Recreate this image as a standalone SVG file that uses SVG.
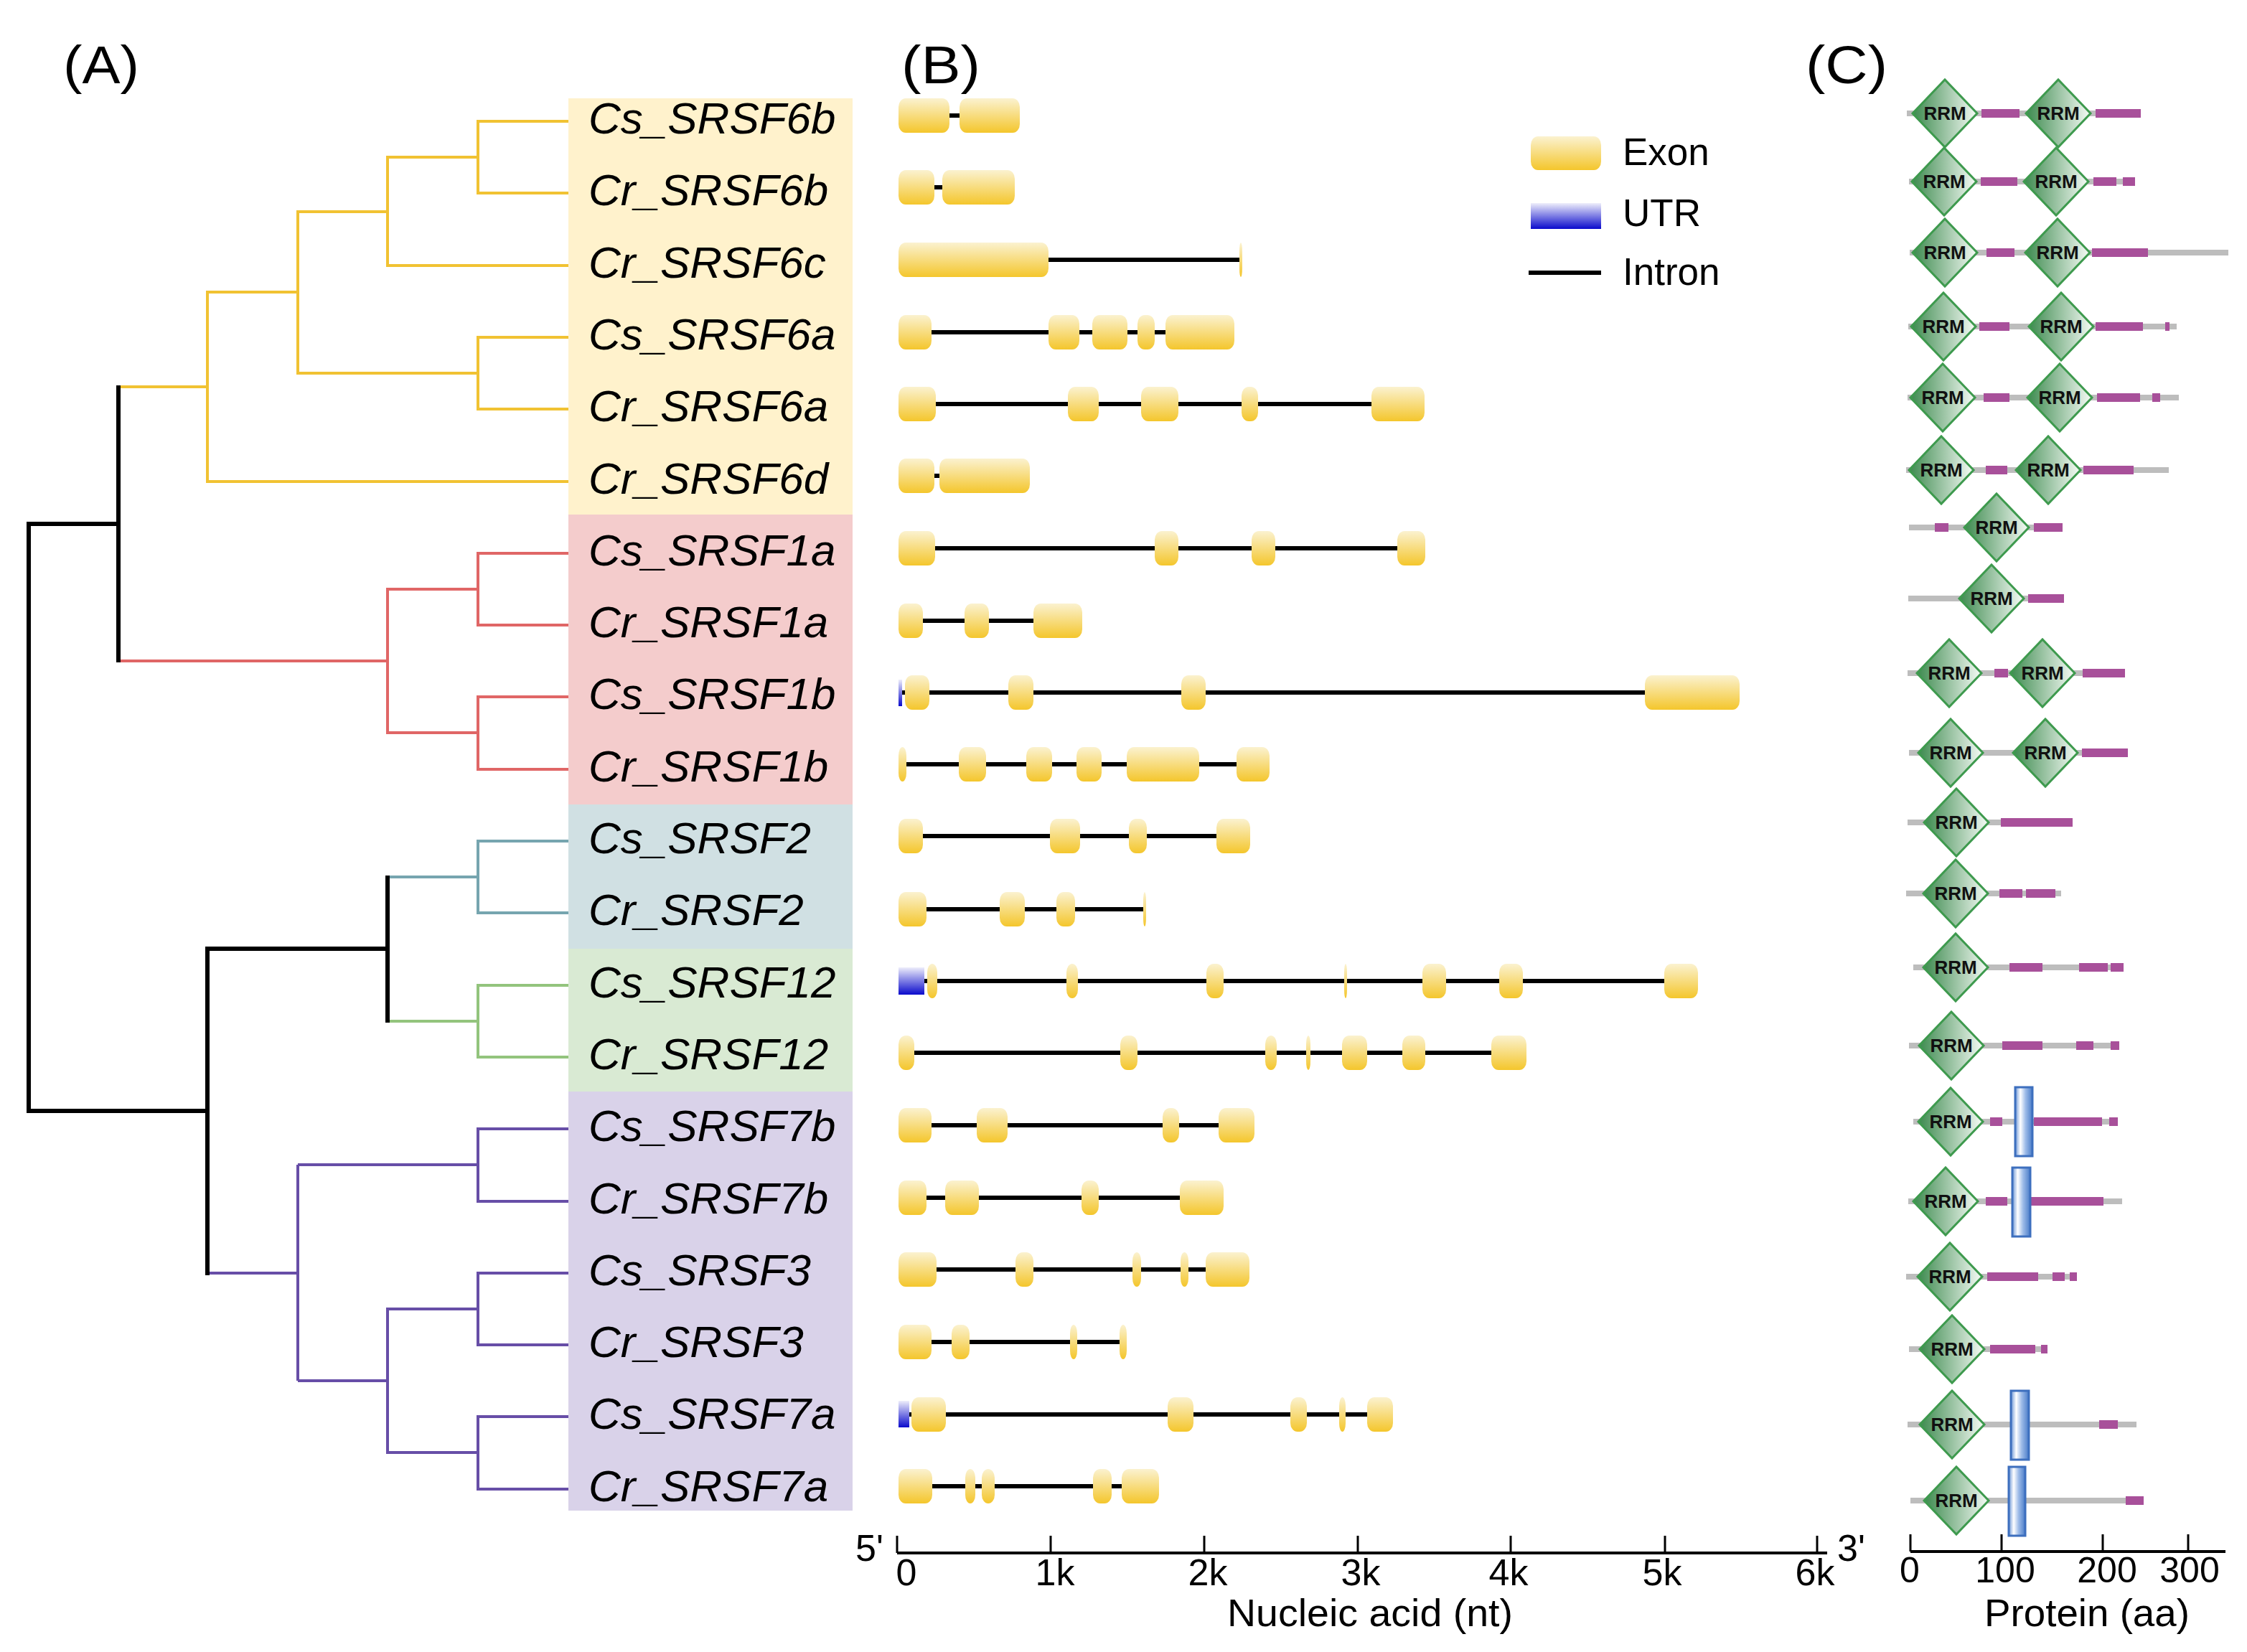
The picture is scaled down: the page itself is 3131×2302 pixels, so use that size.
<svg xmlns="http://www.w3.org/2000/svg" xmlns:xlink="http://www.w3.org/1999/xlink" width="3131" height="2302" viewBox="0 0 3131 2302">
<style>
.lbl{font-family:"Liberation Sans",Arial,sans-serif;font-style:italic;font-size:62px;fill:#000}
.t{font-family:"Liberation Sans",Arial,sans-serif;fill:#000}
.rrm{font-family:"Liberation Sans",Arial,sans-serif;font-weight:bold;font-size:26px;fill:#111;text-anchor:middle}
.ex{fill:url(#gEx);rx:10px;ry:12px}
.utr{fill:url(#gUtr)}
.in{stroke:#000;stroke-width:6;fill:none}
.gr{stroke:#BDBDBD;stroke-width:8;fill:none}
.mg{fill:#A8509A}
.bx{fill:url(#gBx);stroke:#3D6FBE;stroke-width:3}
.ty{stroke:#F1C232;stroke-width:4;fill:none}
.tr{stroke:#E06666;stroke-width:4;fill:none}
.tt{stroke:#76A5AF;stroke-width:4;fill:none}
.tg{stroke:#93C47D;stroke-width:4;fill:none}
.tp{stroke:#674EA7;stroke-width:4;fill:none}
.tk{stroke:#000;stroke-width:6;fill:none}
.axl{stroke:#000;stroke-width:4;fill:none}
.tick{stroke:#000;stroke-width:3;fill:none}
</style>
<defs>
<linearGradient id="gEx" x1="0" y1="0" x2="0" y2="1"><stop offset="0" stop-color="#FBF2D0"/><stop offset="1" stop-color="#F4C62C"/></linearGradient>
<linearGradient id="gUtr" x1="0" y1="0" x2="0" y2="1"><stop offset="0" stop-color="#EEEEFB"/><stop offset="1" stop-color="#0A0ACC"/></linearGradient>
<linearGradient id="gRRM" x1="0" y1="0" x2="1" y2="0"><stop offset="0" stop-color="#3C8A4E"/><stop offset="1" stop-color="#F6FBF6"/></linearGradient>
<linearGradient id="gBx" x1="0" y1="0" x2="1" y2="0"><stop offset="0" stop-color="#6A95D6"/><stop offset="0.3" stop-color="#FFFFFF"/><stop offset="0.6" stop-color="#9DBBE8"/><stop offset="1" stop-color="#4A7CC8"/></linearGradient>
<polygon id="dia" points="-45,0 0,-47 45,0 0,47" fill="url(#gRRM)" stroke="#3E9A4E" stroke-width="3"/>
</defs>
<rect width="3131" height="2302" fill="#fff"/>

<g id="panel-labels">
<text class="t" x="88" y="116" font-size="74" textLength="106" lengthAdjust="spacingAndGlyphs">(A)</text>
<text class="t" x="1256" y="116" font-size="74" textLength="110" lengthAdjust="spacingAndGlyphs">(B)</text>
<text class="t" x="2516" y="116" font-size="74" textLength="114" lengthAdjust="spacingAndGlyphs">(C)</text>
</g>

<g id="clade-boxes">
<rect x="792" y="137" width="396" height="580" fill="#FFF2CC"/>
<rect x="792" y="717" width="396" height="404" fill="#F4CCCC"/>
<rect x="792" y="1121" width="396" height="201" fill="#D0E0E3"/>
<rect x="792" y="1322" width="396" height="199" fill="#D9EAD3"/>
<rect x="792" y="1521" width="396" height="584" fill="#D9D2E9"/>
</g>

<g id="connectors">
<path class="ty" d="M792 169H666V269H792M666 219H540V370H792M540 295H415V520H666M792 470H666V570H792M415 407H289V671H792M289 539H165"/>
<path class="tr" d="M792 771H666V871H792M792 971H666V1072H792M666 821H540V1021H666M540 921H165"/>
<path class="tt" d="M792 1172H666V1272H792M666 1222H540"/>
<path class="tg" d="M792 1373H666V1473H792M666 1423H540"/>
<path class="tp" d="M792 1573H666V1674H792M666 1623H415M792 1774H666V1874H792M792 1974H666V2075H792M666 1824H540V2024H666M540 1924H415M415 1623V1924M415 1774H289"/>
<path class="tk" d="M165 537V923M165 730H40M40 727V1551M40 1548H292M540 1220V1425M540 1322H289M289 1319V1777"/>
</g>

<g id="legend">
<rect class="ex" x="2133" y="190" width="98" height="47"/>
<text class="t" x="2261" y="230" font-size="53">Exon</text>
<rect class="utr" x="2133" y="283" width="98" height="36"/>
<text class="t" x="2261" y="315" font-size="53">UTR</text>
<line class="in" x1="2130" y1="380" x2="2231" y2="380" stroke-width="7"/>
<text class="t" x="2261" y="397" font-size="53">Intron</text>
</g>

<g id="axis-nt">
<path class="axl" d="M1250 2164H2546"/>
<path class="tick" d="M1250 2140V2164M1464 2140V2164M1678 2140V2164M1892 2140V2164M2105 2140V2164M2320 2140V2164M2532 2140V2164"/>
<text class="t" x="1192" y="2175" font-size="52">5'</text>
<text class="t" x="2560" y="2175" font-size="52">3'</text>
<g font-size="52" text-anchor="middle">
<text class="t" x="1263" y="2209">0</text>
<text class="t" x="1470" y="2209">1k</text>
<text class="t" x="1683" y="2209">2k</text>
<text class="t" x="1896" y="2209">3k</text>
<text class="t" x="2102" y="2209">4k</text>
<text class="t" x="2316" y="2209">5k</text>
<text class="t" x="2529" y="2209">6k</text>
</g>
<text class="t" x="1710" y="2266" font-size="54" textLength="398" lengthAdjust="spacingAndGlyphs">Nucleic acid (nt)</text>
</g>

<g id="axis-aa">
<path class="axl" d="M2662 2162H3101"/>
<path class="tick" d="M2662 2138V2162M2789 2138V2162M2930 2138V2162M3049 2138V2162"/>
<g font-size="50" text-anchor="middle">
<text class="t" x="2661" y="2205">0</text>
<text class="t" x="2794" y="2205">100</text>
<text class="t" x="2936" y="2205">200</text>
<text class="t" x="3051" y="2205">300</text>
</g>
<text class="t" x="2765" y="2266" font-size="54" textLength="286" lengthAdjust="spacingAndGlyphs">Protein (aa)</text>
</g>

<g id="Cs_SRSF6b">
<text class="lbl" x="820" y="186">Cs_SRSF6b</text>
<line class="in" x1="1323" y1="161" x2="1337" y2="161"/>
<rect class="ex" x="1252" y="137" width="71" height="48"/><rect class="ex" x="1337" y="137" width="84" height="48"/>
<line class="gr" x1="2657" y1="158" x2="2983" y2="158"/>
<rect class="mg" x="2761" y="152" width="53" height="12"/><rect class="mg" x="2920" y="152" width="63" height="12"/>
<use href="#dia" x="2710" y="158"/><text class="rrm" x="2710" y="167">RRM</text>
<use href="#dia" x="2868" y="158"/><text class="rrm" x="2868" y="167">RRM</text>
</g>

<g id="Cr_SRSF6b">
<text class="lbl" x="820" y="286">Cr_SRSF6b</text>
<line class="in" x1="1302" y1="261" x2="1313" y2="261"/>
<rect class="ex" x="1252" y="237" width="50" height="48"/><rect class="ex" x="1313" y="237" width="101" height="48"/>
<line class="gr" x1="2660" y1="253" x2="2975" y2="253"/>
<rect class="mg" x="2760" y="247" width="51" height="12"/><rect class="mg" x="2917" y="247" width="32" height="12"/><rect class="mg" x="2958" y="247" width="17" height="12"/>
<use href="#dia" x="2709" y="253"/><text class="rrm" x="2709" y="262">RRM</text>
<use href="#dia" x="2865" y="253"/><text class="rrm" x="2865" y="262">RRM</text>
</g>

<g id="Cr_SRSF6c">
<text class="lbl" x="820" y="387">Cr_SRSF6c</text>
<line class="in" x1="1461" y1="362" x2="1727" y2="362"/>
<rect class="ex" x="1252" y="338" width="209" height="48"/><rect class="ex" x="1727" y="338" width="4" height="48"/>
<line class="gr" x1="2661" y1="352" x2="3105" y2="352"/>
<rect class="mg" x="2768" y="346" width="39" height="12"/><rect class="mg" x="2915" y="346" width="78" height="12"/>
<use href="#dia" x="2710" y="352"/><text class="rrm" x="2710" y="361">RRM</text>
<use href="#dia" x="2867" y="352"/><text class="rrm" x="2867" y="361">RRM</text>
</g>

<g id="Cs_SRSF6a">
<text class="lbl" x="820" y="487">Cs_SRSF6a</text>
<line class="in" x1="1298" y1="463" x2="1624" y2="463"/>
<rect class="ex" x="1252" y="439" width="46" height="48"/><rect class="ex" x="1461" y="439" width="43" height="48"/><rect class="ex" x="1522" y="439" width="49" height="48"/><rect class="ex" x="1585" y="439" width="24" height="48"/><rect class="ex" x="1624" y="439" width="96" height="48"/>
<line class="gr" x1="2659" y1="455" x2="3033" y2="455"/>
<rect class="mg" x="2758" y="449" width="42" height="12"/><rect class="mg" x="2920" y="449" width="66" height="12"/><rect class="mg" x="3017" y="449" width="6" height="12"/>
<use href="#dia" x="2708" y="455"/><text class="rrm" x="2708" y="464">RRM</text>
<use href="#dia" x="2872" y="455"/><text class="rrm" x="2872" y="464">RRM</text>
</g>

<g id="Cr_SRSF6a">
<text class="lbl" x="820" y="587">Cr_SRSF6a</text>
<line class="in" x1="1304" y1="563" x2="1911" y2="563"/>
<rect class="ex" x="1252" y="539" width="52" height="48"/><rect class="ex" x="1488" y="539" width="43" height="48"/><rect class="ex" x="1590" y="539" width="52" height="48"/><rect class="ex" x="1730" y="539" width="23" height="48"/><rect class="ex" x="1911" y="539" width="74" height="48"/>
<line class="gr" x1="2658" y1="554" x2="3036" y2="554"/>
<rect class="mg" x="2764" y="548" width="36" height="12"/><rect class="mg" x="2922" y="548" width="60" height="12"/><rect class="mg" x="2999" y="548" width="11" height="12"/>
<use href="#dia" x="2707" y="554"/><text class="rrm" x="2707" y="563">RRM</text>
<use href="#dia" x="2870" y="554"/><text class="rrm" x="2870" y="563">RRM</text>
</g>

<g id="Cr_SRSF6d">
<text class="lbl" x="820" y="688">Cr_SRSF6d</text>
<line class="in" x1="1302" y1="663" x2="1309" y2="663"/>
<rect class="ex" x="1252" y="639" width="50" height="48"/><rect class="ex" x="1309" y="639" width="126" height="48"/>
<line class="gr" x1="2656" y1="655" x2="3022" y2="655"/>
<rect class="mg" x="2767" y="649" width="30" height="12"/><rect class="mg" x="2903" y="649" width="70" height="12"/>
<use href="#dia" x="2705" y="655"/><text class="rrm" x="2705" y="664">RRM</text>
<use href="#dia" x="2854" y="655"/><text class="rrm" x="2854" y="664">RRM</text>
</g>

<g id="Cs_SRSF1a">
<text class="lbl" x="820" y="788">Cs_SRSF1a</text>
<line class="in" x1="1303" y1="764" x2="1947" y2="764"/>
<rect class="ex" x="1252" y="740" width="51" height="48"/><rect class="ex" x="1609" y="740" width="33" height="48"/><rect class="ex" x="1744" y="740" width="33" height="48"/><rect class="ex" x="1947" y="740" width="39" height="48"/>
<line class="gr" x1="2660" y1="735" x2="2874" y2="735"/>
<rect class="mg" x="2696" y="729" width="19" height="12"/><rect class="mg" x="2834" y="729" width="40" height="12"/>
<use href="#dia" x="2782" y="735"/><text class="rrm" x="2782" y="744">RRM</text>
</g>

<g id="Cr_SRSF1a">
<text class="lbl" x="820" y="888">Cr_SRSF1a</text>
<line class="in" x1="1286" y1="865" x2="1440" y2="865"/>
<rect class="ex" x="1252" y="841" width="34" height="48"/><rect class="ex" x="1344" y="841" width="34" height="48"/><rect class="ex" x="1440" y="841" width="68" height="48"/>
<line class="gr" x1="2659" y1="834" x2="2876" y2="834"/>
<rect class="mg" x="2826" y="828" width="50" height="12"/>
<use href="#dia" x="2775" y="834"/><text class="rrm" x="2775" y="843">RRM</text>
</g>

<g id="Cs_SRSF1b">
<text class="lbl" x="820" y="988">Cs_SRSF1b</text>
<line class="in" x1="1257" y1="965" x2="2292" y2="965"/>
<rect class="utr" x="1252" y="947" width="5" height="37"/>
<rect class="ex" x="1261" y="941" width="34" height="48"/><rect class="ex" x="1405" y="941" width="35" height="48"/><rect class="ex" x="1646" y="941" width="34" height="48"/><rect class="ex" x="2292" y="941" width="132" height="48"/>
<line class="gr" x1="2658" y1="938" x2="2961" y2="938"/>
<rect class="mg" x="2779" y="932" width="19" height="12"/><rect class="mg" x="2902" y="932" width="59" height="12"/>
<use href="#dia" x="2716" y="938"/><text class="rrm" x="2716" y="947">RRM</text>
<use href="#dia" x="2846" y="938"/><text class="rrm" x="2846" y="947">RRM</text>
</g>

<g id="Cr_SRSF1b">
<text class="lbl" x="820" y="1089">Cr_SRSF1b</text>
<line class="in" x1="1263" y1="1065" x2="1723" y2="1065"/>
<rect class="ex" x="1252" y="1041" width="11" height="48"/><rect class="ex" x="1336" y="1041" width="38" height="48"/><rect class="ex" x="1430" y="1041" width="36" height="48"/><rect class="ex" x="1500" y="1041" width="35" height="48"/><rect class="ex" x="1570" y="1041" width="101" height="48"/><rect class="ex" x="1723" y="1041" width="46" height="48"/>
<line class="gr" x1="2660" y1="1049" x2="2965" y2="1049"/>
<rect class="mg" x="2901" y="1043" width="64" height="12"/>
<use href="#dia" x="2718" y="1049"/><text class="rrm" x="2718" y="1058">RRM</text>
<use href="#dia" x="2850" y="1049"/><text class="rrm" x="2850" y="1058">RRM</text>
</g>

<g id="Cs_SRSF2">
<text class="lbl" x="820" y="1189">Cs_SRSF2</text>
<line class="in" x1="1286" y1="1165" x2="1695" y2="1165"/>
<rect class="ex" x="1252" y="1141" width="34" height="48"/><rect class="ex" x="1463" y="1141" width="42" height="48"/><rect class="ex" x="1573" y="1141" width="25" height="48"/><rect class="ex" x="1695" y="1141" width="47" height="48"/>
<line class="gr" x1="2658" y1="1146" x2="2888" y2="1146"/>
<rect class="mg" x="2788" y="1140" width="100" height="12"/>
<use href="#dia" x="2726" y="1146"/><text class="rrm" x="2726" y="1155">RRM</text>
</g>

<g id="Cr_SRSF2">
<text class="lbl" x="820" y="1289">Cr_SRSF2</text>
<line class="in" x1="1291" y1="1267" x2="1593" y2="1267"/>
<rect class="ex" x="1252" y="1243" width="39" height="48"/><rect class="ex" x="1393" y="1243" width="35" height="48"/><rect class="ex" x="1472" y="1243" width="26" height="48"/><rect class="ex" x="1593" y="1243" width="4" height="48"/>
<line class="gr" x1="2656" y1="1245" x2="2872" y2="1245"/>
<rect class="mg" x="2786" y="1239" width="32" height="12"/><rect class="mg" x="2823" y="1239" width="41" height="12"/>
<use href="#dia" x="2725" y="1245"/><text class="rrm" x="2725" y="1254">RRM</text>
</g>

<g id="Cs_SRSF12">
<text class="lbl" x="820" y="1390">Cs_SRSF12</text>
<line class="in" x1="1288" y1="1367" x2="2319" y2="1367"/>
<rect class="utr" x="1252" y="1348" width="36" height="38"/>
<rect class="ex" x="1292" y="1343" width="14" height="48"/><rect class="ex" x="1486" y="1343" width="16" height="48"/><rect class="ex" x="1681" y="1343" width="24" height="48"/><rect class="ex" x="1873" y="1343" width="4" height="48"/><rect class="ex" x="1982" y="1343" width="33" height="48"/><rect class="ex" x="2089" y="1343" width="33" height="48"/><rect class="ex" x="2319" y="1343" width="47" height="48"/>
<line class="gr" x1="2666" y1="1348" x2="2959" y2="1348"/>
<rect class="mg" x="2800" y="1342" width="46" height="12"/><rect class="mg" x="2897" y="1342" width="40" height="12"/><rect class="mg" x="2941" y="1342" width="18" height="12"/>
<use href="#dia" x="2725" y="1348"/><text class="rrm" x="2725" y="1357">RRM</text>
</g>

<g id="Cr_SRSF12">
<text class="lbl" x="820" y="1490">Cr_SRSF12</text>
<line class="in" x1="1274" y1="1467" x2="2078" y2="1467"/>
<rect class="ex" x="1252" y="1443" width="22" height="48"/><rect class="ex" x="1561" y="1443" width="24" height="48"/><rect class="ex" x="1763" y="1443" width="16" height="48"/><rect class="ex" x="1820" y="1443" width="6" height="48"/><rect class="ex" x="1870" y="1443" width="35" height="48"/><rect class="ex" x="1954" y="1443" width="32" height="48"/><rect class="ex" x="2078" y="1443" width="49" height="48"/>
<line class="gr" x1="2660" y1="1457" x2="2953" y2="1457"/>
<rect class="mg" x="2790" y="1451" width="56" height="12"/><rect class="mg" x="2893" y="1451" width="24" height="12"/><rect class="mg" x="2941" y="1451" width="12" height="12"/>
<use href="#dia" x="2719" y="1457"/><text class="rrm" x="2719" y="1466">RRM</text>
</g>

<g id="Cs_SRSF7b">
<text class="lbl" x="820" y="1590">Cs_SRSF7b</text>
<line class="in" x1="1298" y1="1568" x2="1698" y2="1568"/>
<rect class="ex" x="1252" y="1544" width="46" height="48"/><rect class="ex" x="1361" y="1544" width="43" height="48"/><rect class="ex" x="1620" y="1544" width="23" height="48"/><rect class="ex" x="1698" y="1544" width="50" height="48"/>
<line class="gr" x1="2666" y1="1563" x2="2951" y2="1563"/>
<rect class="mg" x="2773" y="1557" width="17" height="12"/><rect class="mg" x="2834" y="1557" width="95" height="12"/><rect class="mg" x="2939" y="1557" width="12" height="12"/>
<use href="#dia" x="2718" y="1563"/><text class="rrm" x="2718" y="1572">RRM</text>
<rect class="bx" x="2808" y="1515" width="24" height="96"/>
</g>

<g id="Cr_SRSF7b">
<text class="lbl" x="820" y="1691">Cr_SRSF7b</text>
<line class="in" x1="1291" y1="1669" x2="1644" y2="1669"/>
<rect class="ex" x="1252" y="1645" width="39" height="48"/><rect class="ex" x="1317" y="1645" width="47" height="48"/><rect class="ex" x="1507" y="1645" width="24" height="48"/><rect class="ex" x="1644" y="1645" width="61" height="48"/>
<line class="gr" x1="2659" y1="1674" x2="2957" y2="1674"/>
<rect class="mg" x="2767" y="1668" width="30" height="12"/><rect class="mg" x="2830" y="1668" width="101" height="12"/>
<use href="#dia" x="2711" y="1674"/><text class="rrm" x="2711" y="1683">RRM</text>
<rect class="bx" x="2804" y="1627" width="25" height="96"/>
</g>

<g id="Cs_SRSF3">
<text class="lbl" x="820" y="1791">Cs_SRSF3</text>
<line class="in" x1="1305" y1="1769" x2="1680" y2="1769"/>
<rect class="ex" x="1252" y="1745" width="53" height="48"/><rect class="ex" x="1415" y="1745" width="25" height="48"/><rect class="ex" x="1578" y="1745" width="12" height="48"/><rect class="ex" x="1645" y="1745" width="11" height="48"/><rect class="ex" x="1680" y="1745" width="61" height="48"/>
<line class="gr" x1="2656" y1="1779" x2="2894" y2="1779"/>
<rect class="mg" x="2769" y="1773" width="71" height="12"/><rect class="mg" x="2860" y="1773" width="17" height="12"/><rect class="mg" x="2884" y="1773" width="10" height="12"/>
<use href="#dia" x="2717" y="1779"/><text class="rrm" x="2717" y="1788">RRM</text>
</g>

<g id="Cr_SRSF3">
<text class="lbl" x="820" y="1891">Cr_SRSF3</text>
<line class="in" x1="1298" y1="1870" x2="1560" y2="1870"/>
<rect class="ex" x="1252" y="1846" width="46" height="48"/><rect class="ex" x="1326" y="1846" width="25" height="48"/><rect class="ex" x="1491" y="1846" width="10" height="48"/><rect class="ex" x="1560" y="1846" width="10" height="48"/>
<line class="gr" x1="2660" y1="1880" x2="2853" y2="1880"/>
<rect class="mg" x="2773" y="1874" width="63" height="12"/><rect class="mg" x="2844" y="1874" width="9" height="12"/>
<use href="#dia" x="2720" y="1880"/><text class="rrm" x="2720" y="1889">RRM</text>
</g>

<g id="Cs_SRSF7a">
<text class="lbl" x="820" y="1991">Cs_SRSF7a</text>
<line class="in" x1="1267" y1="1971" x2="1905" y2="1971"/>
<rect class="utr" x="1252" y="1952" width="15" height="37"/>
<rect class="ex" x="1270" y="1947" width="48" height="48"/><rect class="ex" x="1627" y="1947" width="36" height="48"/><rect class="ex" x="1798" y="1947" width="23" height="48"/><rect class="ex" x="1866" y="1947" width="9" height="48"/><rect class="ex" x="1905" y="1947" width="36" height="48"/>
<line class="gr" x1="2658" y1="1985" x2="2977" y2="1985"/>
<rect class="mg" x="2925" y="1979" width="26" height="12"/>
<use href="#dia" x="2720" y="1985"/><text class="rrm" x="2720" y="1994">RRM</text>
<rect class="bx" x="2802" y="1938" width="25" height="96"/>
</g>

<g id="Cr_SRSF7a">
<text class="lbl" x="820" y="2092">Cr_SRSF7a</text>
<line class="in" x1="1299" y1="2071" x2="1563" y2="2071"/>
<rect class="ex" x="1252" y="2047" width="47" height="48"/><rect class="ex" x="1345" y="2047" width="14" height="48"/><rect class="ex" x="1368" y="2047" width="18" height="48"/><rect class="ex" x="1523" y="2047" width="26" height="48"/><rect class="ex" x="1563" y="2047" width="52" height="48"/>
<line class="gr" x1="2662" y1="2091" x2="2987" y2="2091"/>
<rect class="mg" x="2962" y="2085" width="25" height="12"/>
<use href="#dia" x="2726" y="2091"/><text class="rrm" x="2726" y="2100">RRM</text>
<rect class="bx" x="2799" y="2044" width="23" height="96"/>
</g>
</svg>
